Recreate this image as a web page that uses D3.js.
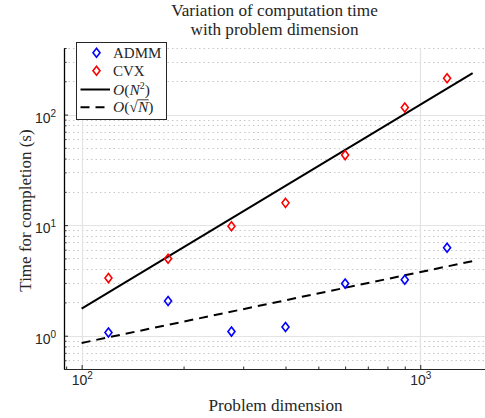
<!DOCTYPE html>
<html>
<head>
<meta charset="utf-8">
<script src="https://cdn.jsdelivr.net/npm/d3@7"></script>
<style>
  body { margin: 0; background: #fff; }
  svg { display: block; }
  .serif { font-family: "Liberation Serif", "Times New Roman", serif; fill: #262626; }
  .tick-lbl { font-family: "Liberation Sans", Arial, sans-serif; font-size: 14px; fill: #262626; }
</style>
</head>
<body>
<div id="chart"></div>
<script>
// values
const dims = [120, 180, 277, 400, 600, 900, 1200];
const admmTime = [1.07, 2.06, 1.09, 1.2, 2.96, 3.21, 6.24];
const cvxTime = [3.32, 4.97, 9.76, 15.9, 43.0, 116, 213];

// reference curves (end points only)
const fitDims = [100, 1428];
const quadFit = [1.76, 237];
const sqrtFit = [0.86, 4.73];

const xMajor = [100, 1000];
const yMajor = [1, 10, 100];

const width = 485, height = 418;
const plot = {left: 64, right: 485, top: 48, bottom: 369};

const svg = d3.select("#chart").append("svg")
  .attr("width", width)
  .attr("height", height);

const x = d3.scaleLog().domain([88.7, 1553]).range([plot.left, plot.right]);
const y = d3.scaleLog().domain([0.5, 400]).range([plot.bottom, plot.top]);

// minor tick values
const yMinor = [];
[0.1, 1, 10, 100].forEach(d => {
  for (let k = 2; k <= 9; k++) {
    const v = d * k;
    if (v >= 0.5 && v <= 400) yMinor.push(v);
  }
});
const xMinor = [];
[10, 100, 1000].forEach(d => {
  for (let k = 2; k <= 9; k++) {
    const v = d * k;
    if (v >= 88.7 && v <= 1553) xMinor.push(v);
  }
});

// grid
const grid = svg.append("g");
grid.selectAll(".ymin").data(yMinor).join("line")
  .attr("x1", plot.left).attr("x2", plot.right)
  .attr("y1", d => Math.round(y(d)) + 0.5).attr("y2", d => Math.round(y(d)) + 0.5)
  .attr("stroke", "#c8c8c8").attr("stroke-width", 1)
  .attr("stroke-dasharray", "1.5,3");
grid.selectAll(".ymaj").data(yMajor).join("line")
  .attr("x1", plot.left).attr("x2", plot.right)
  .attr("y1", d => Math.round(y(d)) + 0.5).attr("y2", d => Math.round(y(d)) + 0.5)
  .attr("stroke", "#e3e3e3").attr("stroke-width", 1.2);
grid.selectAll(".xmaj").data(xMajor).join("line")
  .attr("x1", d => Math.round(x(d)) + 0.5).attr("x2", d => Math.round(x(d)) + 0.5)
  .attr("y1", plot.top).attr("y2", plot.bottom)
  .attr("stroke", "#e3e3e3").attr("stroke-width", 1.2);

// axes (ticks pointing inward)
const xAxis = svg.append("g").attr("transform", `translate(0,${plot.bottom})`);
xAxis.call(d3.axisBottom(x).tickValues(xMajor).tickSizeInner(-4).tickSizeOuter(0).tickFormat(""));
xAxis.append("g").call(d3.axisBottom(x).tickValues(xMinor).tickSizeInner(-2.5).tickSizeOuter(0).tickFormat(""));
xAxis.selectAll("path, line").attr("stroke", "#262626");

const yAxis = svg.append("g").attr("transform", `translate(${plot.left},0)`);
yAxis.call(d3.axisLeft(y).tickValues(yMajor).tickSizeInner(-4).tickSizeOuter(0).tickFormat(""));
yAxis.append("g").call(d3.axisLeft(y).tickValues(yMinor).tickSizeInner(-2.5).tickSizeOuter(0).tickFormat(""));
yAxis.selectAll("line").attr("stroke", "#262626");
yAxis.select(".domain").attr("stroke", "#7a7a7a").attr("stroke-width", 1.6);

// tick labels as 10^k
function expLabel(g, v) {
  const k = Math.round(Math.log10(v));
  g.append("tspan").text("10");
  g.append("tspan").attr("dy", -6).attr("font-size", 10).text(k);
}
xMajor.forEach(v => {
  const t = svg.append("text").attr("class", "tick-lbl")
    .attr("x", x(v) - 10).attr("y", plot.bottom + 16);
  expLabel(t, v);
});
yMajor.forEach(v => {
  const t = svg.append("text").attr("class", "tick-lbl")
    .attr("x", plot.left - 29).attr("y", y(v) + 8);
  expLabel(t, v);
});

// fitted lines
const line = d3.line().x(d => x(d[0])).y(d => y(d[1]));
svg.append("path")
  .attr("d", line(d3.zip(fitDims, quadFit)))
  .attr("fill", "none").attr("stroke", "#000").attr("stroke-width", 2);
svg.append("path")
  .attr("d", line(d3.zip(fitDims, sqrtFit)))
  .attr("fill", "none").attr("stroke", "#000").attr("stroke-width", 2)
  .attr("stroke-dasharray", "9,6");

// diamond markers
const diamond = "M0,-4.5L3.5,0L0,4.5L-3.5,0Z";
function drawMarkers(vals, color) {
  svg.append("g").selectAll("path")
    .data(d3.zip(dims, vals))
    .join("path")
    .attr("transform", d => `translate(${x(d[0])},${y(d[1])})`)
    .attr("d", diamond)
    .attr("fill", "none")
    .attr("stroke", color)
    .attr("stroke-width", 1.6);
}
drawMarkers(admmTime, "#0000ff");
drawMarkers(cvxTime, "#ff0000");

// title
const title = svg.append("text").attr("class", "serif")
  .attr("text-anchor", "middle").attr("font-size", 17.2);
title.append("tspan").attr("x", (plot.left + plot.right) / 2).attr("y", 16).text("Variation of computation time");
title.append("tspan").attr("x", (plot.left + plot.right) / 2).attr("y", 35).text("with problem dimension");

// axis labels
svg.append("text").attr("class", "serif")
  .attr("text-anchor", "middle").attr("font-size", 17.2)
  .attr("x", (plot.left + plot.right) / 2 + 1).attr("y", 411)
  .text("Problem dimension");
svg.append("text").attr("class", "serif")
  .attr("text-anchor", "middle").attr("font-size", 17)
  .attr("transform", `translate(31,${(plot.top + plot.bottom) / 2 + 2}) rotate(-90)`)
  .text("Time for completion (s)");

// legend
const lg = svg.append("g");
lg.append("rect")
  .attr("x", 76.5).attr("y", 42.5).attr("width", 90).attr("height", 77)
  .attr("fill", "#fff").attr("stroke", "#262626").attr("stroke-width", 1);

const legendRows = [52.7, 70.7, 89.5, 107.3];
const legendX = 96.5, textX = 113;

lg.append("path").attr("d", diamond)
  .attr("transform", `translate(${legendX},${legendRows[0]})`)
  .attr("fill", "none").attr("stroke", "#0000ff").attr("stroke-width", 1.6);
lg.append("path").attr("d", diamond)
  .attr("transform", `translate(${legendX},${legendRows[1]})`)
  .attr("fill", "none").attr("stroke", "#ff0000").attr("stroke-width", 1.6);
lg.append("line").attr("x1", 80.5).attr("x2", 110).attr("y1", legendRows[2]).attr("y2", legendRows[2])
  .attr("stroke", "#000").attr("stroke-width", 2);
lg.append("line").attr("x1", 80.5).attr("x2", 110).attr("y1", legendRows[3]).attr("y2", legendRows[3])
  .attr("stroke", "#000").attr("stroke-width", 2).attr("stroke-dasharray", "9,6");

lg.append("text").attr("class", "serif").attr("font-size", 15)
  .attr("x", textX).attr("y", legendRows[0] + 5).text("ADMM");
lg.append("text").attr("class", "serif").attr("font-size", 15)
  .attr("x", textX).attr("y", legendRows[1] + 5).text("CVX");

const t3 = lg.append("text").attr("class", "serif").attr("font-size", 15.5)
  .attr("x", textX).attr("y", legendRows[2] + 5);
t3.append("tspan").attr("font-style", "italic").text("O");
t3.append("tspan").text("(");
t3.append("tspan").attr("font-style", "italic").text("N");
t3.append("tspan").attr("dy", -6).attr("font-size", 10).text("2");
t3.append("tspan").attr("dy", 6).text(")");

const t4 = lg.append("text").attr("class", "serif").attr("font-size", 15.5)
  .attr("x", textX).attr("y", legendRows[3] + 5);
t4.append("tspan").attr("font-style", "italic").text("O");
t4.append("tspan").text("(√");
t4.append("tspan").attr("font-style", "italic").text("N");
t4.append("tspan").text(")");
// overbar of the square root
const pre = t4.node().getSubStringLength(0, 3);
const nW = t4.node().getSubStringLength(3, 1);
lg.append("line")
  .attr("x1", textX + pre - 0.5).attr("x2", textX + pre + nW + 0.5)
  .attr("y1", legendRows[3] - 7.5).attr("y2", legendRows[3] - 7.5)
  .attr("stroke", "#262626").attr("stroke-width", 0.9);
</script>
</body>
</html>
